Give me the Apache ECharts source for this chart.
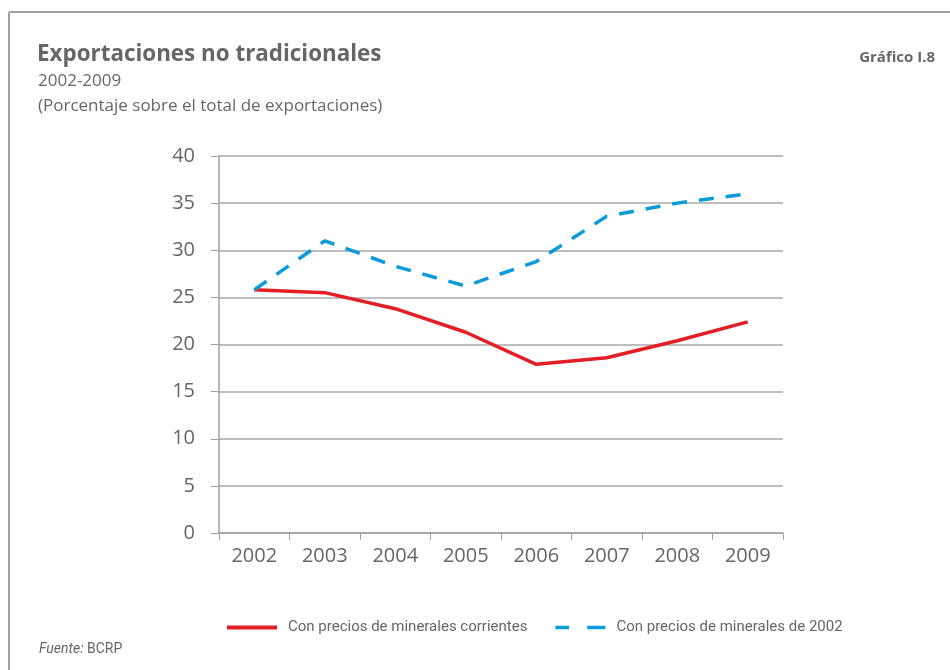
<!DOCTYPE html>
<html>
<head>
<meta charset="utf-8">
<script src="https://cdn.jsdelivr.net/npm/echarts@6/dist/echarts.min.js"></script>
<style>
  html, body { margin: 0; padding: 0; background: #fff; }
  #chart { width: 950px; height: 670px; }
</style>
</head>
<body>
<div id="chart"></div>
<script>
// datos del gráfico
const years = ['2002', '2003', '2004', '2005', '2006', '2007', '2008', '2009']
const corrientes = [25.8, 25.5, 23.8, 21.3, 17.9, 18.6, 20.4, 22.4]
const precios2002 = [25.8, 31.0, 28.3, 26.2, 28.8, 33.6, 35.0, 36.0]
const yTicks = [0, 5, 10, 15, 20, 25, 30, 35, 40]

const gray = '#666'
const font = 'Open Sans'
const narrow = 'Roboto'
const red = '#E31E24'
const blue = '#0A9BDA'

const chart = echarts.init(document.getElementById('chart'))
const option = {
  animation: false,
  backgroundColor: '#fff',
  title: [
    {
      text: 'Exportaciones no tradicionales',
      left: 32, top: 39,
      textStyle: { color: gray, fontFamily: font, fontSize: 22.4, fontWeight: 'bold' }
    },
    {
      text: '2002-2009\n(Porcentaje sobre el total de exportaciones)',
      left: 33, top: 64,
      textStyle: { color: gray, fontFamily: font, fontSize: 17, fontWeight: 'normal', lineHeight: 25 }
    },
    {
      text: 'Gráfico I.8',
      right: 10, top: 45,
      textStyle: { color: gray, fontFamily: font, fontSize: 15, fontWeight: 'bold' }
    },
    {
      text: '{i|Fuente:} BCRP',
      left: 34, top: 637,
      textStyle: {
        color: gray, fontFamily: narrow, fontSize: 14, fontWeight: 'normal',
        rich: { i: { fontStyle: 'italic', color: gray, fontFamily: narrow, fontSize: 14 } }
      }
    }
  ],
  // marco del gráfico
  graphic: [
    { type: 'line', shape: { x1: 9, y1: 12, x2: 950, y2: 12 }, style: { stroke: '#a0a0a0', lineWidth: 2 } },
    { type: 'line', shape: { x1: 9, y1: 12, x2: 9, y2: 670 }, style: { stroke: '#a0a0a0', lineWidth: 2 } }
  ],
  legend: {
    left: 222, top: 615,
    itemWidth: 50, itemHeight: 4, itemGap: 28,
    textStyle: { color: gray, fontFamily: narrow, fontSize: 15, padding: [0, 0, 0, 6] },
    data: [
      { name: 'Con precios de minerales corrientes', icon: 'rect', itemStyle: { color: red } },
      { name: 'Con precios de minerales de 2002', icon: 'path://M0,0h15v4h-15z M35,0h20v4h-20z', itemStyle: { color: blue } }
    ]
  },
  grid: { left: 219, right: 167, top: 156, bottom: 137 },
  xAxis: {
    type: 'category',
    data: years,
    boundaryGap: true,
    axisLine: { lineStyle: { color: '#a0a0a0', width: 1.5 } },
    axisTick: { show: true, length: 7, lineStyle: { color: '#a0a0a0' } },
    axisLabel: { color: gray, fontFamily: font, fontSize: 20, margin: 13 },
    splitLine: { show: false }
  },
  yAxis: {
    type: 'value',
    min: yTicks[0],
    max: yTicks[yTicks.length - 1],
    interval: 5,
    axisLine: { show: true, lineStyle: { color: '#a0a0a0', width: 1.5 } },
    axisTick: { show: true, length: 8, lineStyle: { color: '#a0a0a0' } },
    axisLabel: { color: gray, fontFamily: font, fontSize: 20, margin: 24 },
    splitLine: { show: true, lineStyle: { color: '#a8a8a8', width: 1.5 } }
  },
  series: [
    {
      name: 'Con precios de minerales corrientes',
      type: 'line',
      data: corrientes,
      symbol: 'none',
      color: red,
      lineStyle: { color: red, width: 3.5 }
    },
    {
      name: 'Con precios de minerales de 2002',
      type: 'line',
      data: precios2002,
      symbol: 'none',
      color: blue,
      lineStyle: { color: blue, width: 3.5, type: [15, 12] }
    }
  ]
}
chart.setOption(option)
</script>
</body>
</html>
